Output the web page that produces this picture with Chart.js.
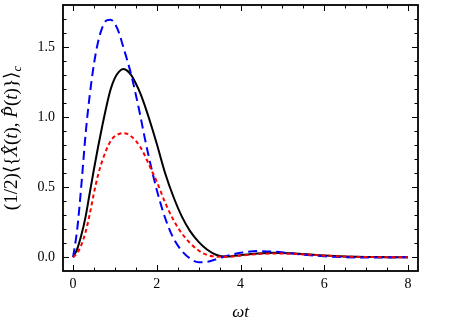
<!DOCTYPE html>
<html>
<head>
<meta charset="utf-8">
<script src="https://cdn.jsdelivr.net/npm/chart.js@4.4.1/dist/chart.umd.min.js"></script>
<style>
  html, body { margin: 0; padding: 0; background: #fff; }
  #wrap { width: 450px; height: 325px; }
</style>
</head>
<body>
<div id="wrap"><canvas id="my-chart"></canvas></div>
<script>
'use strict';

// DATA
let timeValues = [0, 0.1, 0.2, 0.3, 0.4, 0.5, 0.6, 0.7, 0.8, 0.9, 1.0,
  1.1, 1.2, 1.3, 1.4, 1.5, 1.6, 1.7, 1.8, 1.9, 2.0,
  2.2, 2.4, 2.6, 2.8, 3.0, 3.2, 3.4, 3.6, 3.8, 4.0,
  4.4, 4.8, 5.2, 5.6, 6.0, 6.5, 7.0, 7.5, 8.0];

let blackValues = [0, 0.06, 0.16, 0.29, 0.46, 0.63, 0.79, 0.94, 1.08, 1.2, 1.28,
  1.325, 1.343, 1.33, 1.295, 1.24, 1.175, 1.095, 1.005, 0.91, 0.81,
  0.6, 0.43, 0.29, 0.185, 0.11, 0.055, 0.02, 0.006, 0.008, 0.015,
  0.027, 0.033, 0.029, 0.021, 0.013, 0.006, 0.002, 0.001, 0];

let blueValues = [0, 0.2, 0.52, 0.88, 1.16, 1.38, 1.54, 1.64, 1.69, 1.695, 1.665,
  1.6, 1.5, 1.4, 1.29, 1.16, 1.02, 0.87, 0.73, 0.6, 0.48,
  0.28, 0.135, 0.045, -0.01, -0.035, -0.033, -0.016, 0.004, 0.02, 0.032,
  0.044, 0.04, 0.028, 0.016, 0.007, 0.001, -0.002, -0.001, 0];

let redValues = [0, 0.03, 0.09, 0.18, 0.31, 0.46, 0.59, 0.69, 0.77, 0.83, 0.865,
  0.88, 0.886, 0.88, 0.86, 0.83, 0.79, 0.735, 0.67, 0.605, 0.54,
  0.39, 0.265, 0.17, 0.1, 0.048, 0.017, 0.005, 0.003, 0.006, 0.012,
  0.022, 0.027, 0.025, 0.019, 0.012, 0.005, 0.002, 0, 0];

let xTickLabels = [0, 2, 4, 6, 8];
let yTickLabels = [0, 0.5, 1.0, 1.5];
let xTitle = 'ωt';

// HELPERS
function toPoints(values) {
  let pts = [];
  for (let i = 0; i < timeValues.length; i++) {
    pts.push({ x: timeValues[i], y: values[i] });
  }
  return pts;
}

function noPadding(s) {
  s.paddingTop = 0;
  s.paddingBottom = 0;
  s.paddingLeft = 0;
  s.paddingRight = 0;
}

const serif = '"Liberation Serif", "DejaVu Serif", serif';

// frame + inward ticks on all four sides, like the original
const frameTicks = {
  id: 'frameTicks',
  afterDatasetsDraw(chart) {
    let ctx = chart.ctx;
    let a = chart.chartArea;
    let xs = chart.scales.x;
    let ys = chart.scales.y;
    ctx.save();
    ctx.strokeStyle = '#000';
    ctx.lineWidth = 1;
    ctx.beginPath();
    for (let i = 0; i <= 16; i++) {
      let px = Math.round(xs.getPixelForValue(i * 0.5)) + 0.5;
      let len = (i % 4 === 0) ? 6 : 3.5;
      ctx.moveTo(px, a.bottom); ctx.lineTo(px, a.bottom - len);
      ctx.moveTo(px, a.top); ctx.lineTo(px, a.top + len);
    }
    for (let j = 0; j <= 17; j++) {
      let py = Math.round(ys.getPixelForValue(j * 0.1)) + 0.5;
      let len = (j % 5 === 0) ? 6 : 3.5;
      ctx.moveTo(a.left, py); ctx.lineTo(a.left + len, py);
      ctx.moveTo(a.right, py); ctx.lineTo(a.right - len, py);
    }
    ctx.stroke();
    ctx.lineWidth = 1.8;
    ctx.strokeRect(a.left, a.top, a.right - a.left, a.bottom - a.top);
    ctx.restore();
  }
};

// axis titles (y title mixes upright and italic pieces + subscript)
const axisTitles = {
  id: 'axisTitles',
  afterDraw(chart) {
    let ctx = chart.ctx;
    let a = chart.chartArea;
    ctx.save();
    ctx.fillStyle = '#000';
    ctx.textBaseline = 'alphabetic';

    ctx.font = 'italic 17px ' + serif;
    ctx.textAlign = 'center';
    ctx.fillText(xTitle, (a.left + a.right) / 2, 317);

    let pieces = [
      ['(1/2)\u27E8{', false, false],
      ['X\u0302', true, false],
      ['(', false, false],
      ['t', true, false],
      ['), ', false, false],
      ['P\u0302', true, false],
      ['(', false, false],
      ['t', true, false],
      [')}\u27E9', false, false],
      ['c', true, true]
    ];
    let size = 19;
    function fontFor(p) {
      let s = p[2] ? size * 0.68 : size;
      return (p[1] ? 'italic ' : '') + s + 'px ' + serif;
    }
    let total = 0;
    for (let p of pieces) {
      ctx.font = fontFor(p);
      total += ctx.measureText(p[0]).width;
    }
    ctx.translate(17, (a.top + a.bottom) / 2);
    ctx.rotate(-Math.PI / 2);
    ctx.textAlign = 'left';
    let cx = -total / 2;
    for (let p of pieces) {
      ctx.font = fontFor(p);
      ctx.fillText(p[0], cx, p[2] ? 4 : 0);
      cx += ctx.measureText(p[0]).width;
    }
    ctx.restore();
  }
};

// CHART CONFIG
let chartConfig = {
  type: 'line',
  data: {
    datasets: [{
      label: 'black',
      data: toPoints(blackValues),
      borderColor: '#000000',
      borderWidth: 2,
      order: 3
    },
    {
      label: 'blue',
      data: toPoints(blueValues),
      borderColor: '#0000ff',
      borderWidth: 2,
      borderDash: [9, 5],
      order: 2
    },
    {
      label: 'red',
      data: toPoints(redValues),
      borderColor: '#ff0000',
      borderWidth: 2,
      borderDash: [4, 3],
      order: 1
    }]
  },
  options: {
    responsive: false,
    animation: false,
    devicePixelRatio: 1,
    layout: { padding: { left: 0, top: 5, right: 32, bottom: 0 } },
    elements: {
      point: { radius: 0 },
      line: { cubicInterpolationMode: 'monotone', fill: false }
    },
    plugins: {
      legend: { display: false },
      tooltip: { enabled: false }
    },
    scales: {
      x: {
        type: 'linear',
        min: -0.24,
        max: 8.24,
        grid: { display: false, drawTicks: false },
        border: { display: false },
        afterBuildTicks: (s) => { s.ticks = xTickLabels.map(v => ({ value: v })); },
        afterFit: (s) => { s.height = 54; noPadding(s); },
        ticks: {
          color: '#000',
          padding: 5,
          maxRotation: 0,
          font: { family: serif, size: 14 },
          callback: (v) => String(v)
        }
      },
      y: {
        type: 'linear',
        min: -0.098,
        max: 1.8,
        grid: { display: false, drawTicks: false },
        border: { display: false },
        afterBuildTicks: (s) => { s.ticks = yTickLabels.map(v => ({ value: v })); },
        afterFit: (s) => { s.width = 63; noPadding(s); },
        ticks: {
          color: '#000',
          padding: 8,
          font: { family: serif, size: 14 },
          callback: (v) => v.toFixed(1)
        }
      }
    }
  },
  plugins: [frameTicks, axisTitles]
};

let canvasElem = document.getElementById('my-chart');
canvasElem.width = 450;
canvasElem.height = 325;
new Chart(canvasElem, chartConfig);
</script>
</body>
</html>
